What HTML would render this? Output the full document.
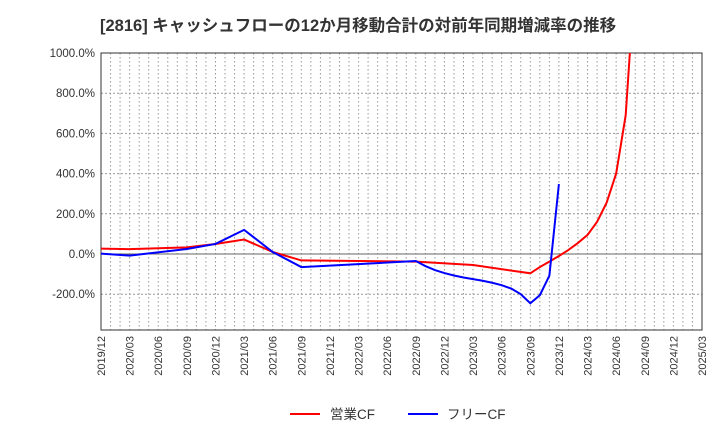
<!DOCTYPE html>
<html><head><meta charset="utf-8"><style>
body{margin:0;background:#fff;font-family:"Liberation Sans","Noto Sans CJK JP",sans-serif;}
</style></head><body>
<svg id="c" width="720" height="440" xmlns="http://www.w3.org/2000/svg">
<text x="100" y="31" font-size="16.5" font-weight="bold" fill="#333" font-family="Liberation Sans,Noto Sans CJK JP,sans-serif">[2816]  キャッシュフローの12か月移動合計の対前年同期増減率の推移</text>
<g id="grid"></g><g id="axes"></g><g id="series"></g>
<g>
<line x1="290" y1="414" x2="320" y2="414" stroke="#f00" stroke-width="2"/>
<text x="330" y="419" font-size="13.5" fill="#333">営業CF</text>
<line x1="408" y1="414" x2="438" y2="414" stroke="#00f" stroke-width="2"/>
<text x="447" y="419" font-size="13.5" fill="#333">フリーCF</text>
</g>
</svg>
<script>
const xLabels=["2019/12","2020/03","2020/06","2020/09","2020/12","2021/03","2021/06","2021/09","2021/12","2022/03","2022/06","2022/09","2022/12","2023/03","2023/06","2023/09","2023/12","2024/03","2024/06","2024/09","2024/12","2025/03"];
const yTicks=[-200,0,200,400,600,800,1000];
const opMonths=[0,3,9,12,15,18,21,33,39,45,46,47,48,49,50,51,52,53,54,55,56];
const opValues=[27,24,33,50,72,10,-32,-38,-55,-96,-65,-38,-10,20,55,95,160,255,400,690,1400];
const fcfMonths=[0,3,9,12,15,18,21,33,34,35,36,37,38,39,40,41,42,43,44,45,46,47,48];
const fcfValues=[2,-8,25,50,120,10,-65,-35,-60,-80,-95,-107,-117,-125,-133,-143,-155,-172,-200,-245,-205,-108,348];
const L=101,R=702,T=53,B=330,NS="http://www.w3.org/2000/svg";
const xs=m=>L+m*(R-L)/63;
const ys=v=>254-v*(254-T)/1000;
function el(p,t,a){const e=document.createElementNS(NS,t);for(const k in a)e.setAttribute(k,a[k]);document.getElementById(p).appendChild(e);return e;}
for(let m=0;m<=63;m++){const l=el('grid','line',{x1:xs(m),x2:xs(m),y1:T,y2:B,stroke:'#999','stroke-dasharray':'1.5,2.5','stroke-width':1});

}
yTicks.forEach(v=>{const l=el('grid','line',{x1:L,x2:R,y1:ys(v),y2:ys(v),stroke:v===0?'#666':'#999','stroke-dasharray':v===0?'':'2,2','stroke-width':1});


const t=el('axes','text',{x:L-6,y:ys(v)+4,'text-anchor':'end','font-size':11.5,fill:'#333'});t.textContent=v.toFixed(1)+'%';

});
const f=el('axes','rect',{x:L,y:T,width:R-L,height:B-T,fill:'none',stroke:'#333','stroke-width':1});


xLabels.forEach((s,i)=>{const x=xs(i*3);const t=el('axes','text',{x:x+4,y:B+6,'text-anchor':'end','font-size':11,fill:'#333',transform:`rotate(-90 ${x+4} ${B+6})`});t.textContent=s;

});
const cp=el('series','clipPath',{id:'cl'});el('cl','rect',{x:L,y:T,width:R-L,height:B-T});
function line(ms,vs,c,n){const p=el('series','polyline',{points:ms.map((m,i)=>xs(m)+','+ys(vs[i])).join(' '),fill:'none',stroke:c,'stroke-width':2,'clip-path':'url(#cl)'});

}
line(opMonths,opValues,'#f00','operating-cf-line');
line(fcfMonths,fcfValues,'#00f','free-cf-line');
</script>
</body></html>
